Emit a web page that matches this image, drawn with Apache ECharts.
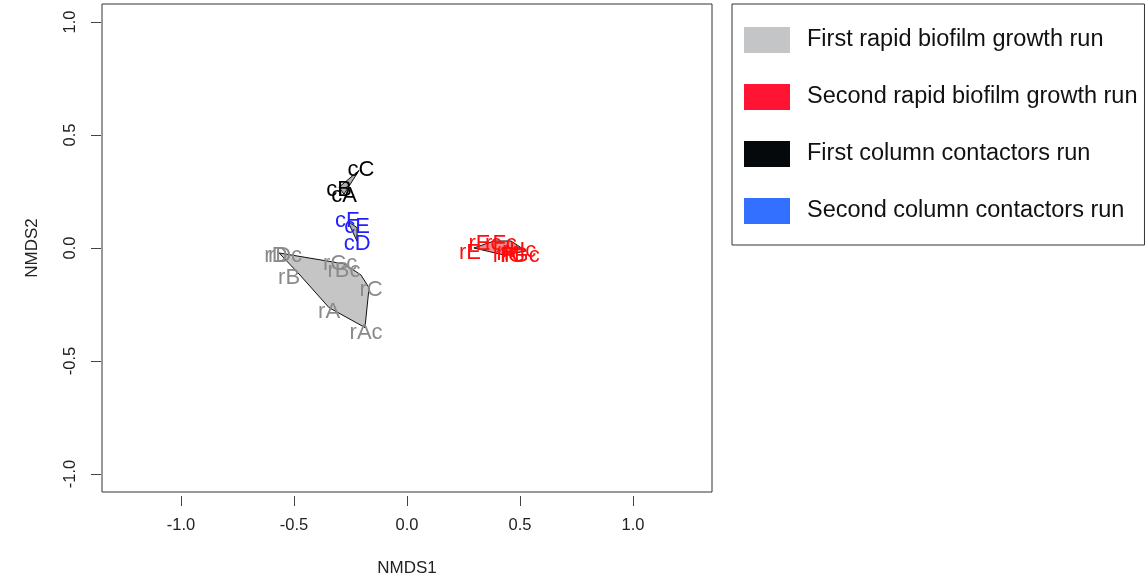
<!DOCTYPE html>
<html>
<head>
<meta charset="utf-8">
<title>NMDS ordination</title>
<script src="https://cdn.jsdelivr.net/npm/echarts@6/dist/echarts.min.js"></script>
<style>
  html, body { margin: 0; padding: 0; background: #fff; }
  #chart { width: 1147px; height: 582px; }
</style>
</head>
<body>
<div id="chart"></div>
<script>
// NMDS site scores, one set of arrays per sampling run
const grayLabels = ['rD', 'rDc', 'rB', 'rCc', 'rBc', 'rC', 'rA', 'rAc'];
const grayX = [-0.580, -0.540, -0.522, -0.296, -0.279, -0.159, -0.345, -0.181];
const grayY = [-0.035, -0.035, -0.132, -0.070, -0.101, -0.185, -0.282, -0.378];

const redLabels = ['rE', 'rEc', 'rFc', 'rF', 'rH', 'rG', 'rHc', 'rGc'];
const redX = [0.279, 0.345, 0.416, 0.425, 0.447, 0.469, 0.496, 0.509];
const redY = [-0.020, 0.016, 0.020, -0.037, -0.028, -0.037, -0.011, -0.033];

const blackLabels = ['cA', 'cB', 'cC'];
const blackX = [-0.279, -0.301, -0.204];
const blackY = [0.232, 0.258, 0.346];

const blueLabels = ['cF', 'cE', 'cD'];
const blueX = [-0.265, -0.221, -0.221];
const blueY = [0.119, 0.093, 0.018];

// Convex hull outlines of each group (NMDS units)
const grayHullX = [-0.566, -0.279, -0.204, -0.168, -0.186, -0.345, -0.478];
const grayHullY = [-0.022, -0.070, -0.119, -0.176, -0.352, -0.264, -0.115];
const redHullX = [0.296, 0.385, 0.460, 0.527, 0.429];
const redHullY = [0.000, 0.031, 0.031, -0.013, -0.031];
const blackHullX = [-0.212, -0.301, -0.279];
const blackHullY = [0.344, 0.269, 0.238];
const blueHullX = [-0.262, -0.221, -0.221];
const blueHullY = [0.118, 0.090, 0.030];

// Axis ticks
const tickValues = [-1.0, -0.5, 0.0, 0.5, 1.0];

const groupNames = [
  'First rapid biofilm growth run',
  'Second rapid biofilm growth run',
  'First column contactors run',
  'Second column contactors run'
];

const FONT = 'Liberation Sans, Arial, sans-serif';

function zip(labels, xs, ys) {
  return labels.map((n, i) => ({ name: n, value: [xs[i], ys[i]] }));
}
function hullPoints(xs, ys) {
  return xs.map((x, i) => [x, ys[i]]);
}

function labelSeries(name, data, color) {
  return {
    name: name,
    type: 'scatter',
    data: data,
    symbol: 'circle',
    symbolSize: 1,
    itemStyle: { color: 'rgba(0,0,0,0)', opacity: 1 },
    z: 3,
    silent: true,
    emphasis: { disabled: true },
    label: {
      show: true,
      position: 'inside',
      formatter: p => p.name,
      color: color,
      opacity: 1,
      fontSize: 22,
      fontFamily: FONT
    }
  };
}

function hullSeries(pts, fill, z) {
  return {
    type: 'custom',
    silent: true,
    z: z,
    data: [[pts[0][0], pts[0][1]]],
    renderItem: function (params, api) {
      return {
        type: 'polygon',
        shape: { points: pts.map(p => api.coord(p)) },
        style: { fill: fill, stroke: '#111', lineWidth: 1 }
      };
    }
  };
}

function fmt(v) { return v.toFixed(1); }

const chart = echarts.init(document.getElementById('chart'), null, { renderer: 'canvas' });

chart.setOption({
  backgroundColor: '#fff',
  animation: false,
  grid: {
    left: 102, right: 435, top: 4, bottom: 87,
    show: true, borderColor: '#333', borderWidth: 1, backgroundColor: 'transparent'
  },
  xAxis: {
    type: 'value', min: -1.35, max: 1.35,
    offset: 4,
    splitLine: { show: false },
    axisLine: { show: false, onZero: false },
    axisTick: { show: true, length: 10, customValues: tickValues, lineStyle: { color: '#444' } },
    axisLabel: { customValues: tickValues, formatter: fmt, margin: 21, fontSize: 16.5, color: '#222', fontFamily: FONT },
    name: 'NMDS1', nameLocation: 'middle', nameGap: 64,
    nameTextStyle: { fontSize: 17, color: '#222', fontFamily: FONT }
  },
  yAxis: {
    type: 'value', min: -1.08, max: 1.08,
    offset: 1,
    splitLine: { show: false },
    axisLine: { show: false, onZero: false },
    axisTick: { show: true, length: 10, customValues: tickValues, lineStyle: { color: '#444' } },
    axisLabel: { customValues: tickValues, formatter: fmt, margin: 22, rotate: 90, fontSize: 16.5, color: '#222', fontFamily: FONT },
    name: 'NMDS2', nameLocation: 'middle', nameGap: 60, nameRotate: 90,
    nameTextStyle: { fontSize: 17, color: '#222', fontFamily: FONT }
  },
  legend: {
    orient: 'vertical',
    left: 732, top: 4,
    padding: [23, 7, 21, 12],
    itemWidth: 46, itemHeight: 26, itemGap: 31,
    borderColor: '#333', borderWidth: 1,
    icon: 'rect',
    selectedMode: false,
    textStyle: { fontSize: 23.5, color: '#111', fontFamily: FONT, padding: [0, 0, 0, 12] },
    data: [
      { name: groupNames[0], itemStyle: { color: '#c3c5c6', opacity: 1 } },
      { name: groupNames[1], itemStyle: { color: '#ff1533', opacity: 1 } },
      { name: groupNames[2], itemStyle: { color: '#05090c', opacity: 1 } },
      { name: groupNames[3], itemStyle: { color: '#3370ff', opacity: 1 } }
    ]
  },
  series: [
    hullSeries(hullPoints(grayHullX, grayHullY), 'rgba(150,150,150,0.55)', 1),
    hullSeries(hullPoints(redHullX, redHullY), 'rgba(240,110,110,0.8)', 1),
    hullSeries(hullPoints(blackHullX, blackHullY), 'rgba(120,120,120,0.6)', 1),
    hullSeries(hullPoints(blueHullX, blueHullY), 'rgba(120,120,120,0.6)', 1),
    labelSeries(groupNames[0], zip(grayLabels, grayX, grayY), '#8a8a8a'),
    labelSeries(groupNames[1], zip(redLabels, redX, redY), '#ff0d0d'),
    labelSeries(groupNames[2], zip(blackLabels, blackX, blackY), '#000000'),
    labelSeries(groupNames[3], zip(blueLabels, blueX, blueY), '#1f1fff')
  ]
});
</script>
</body>
</html>
